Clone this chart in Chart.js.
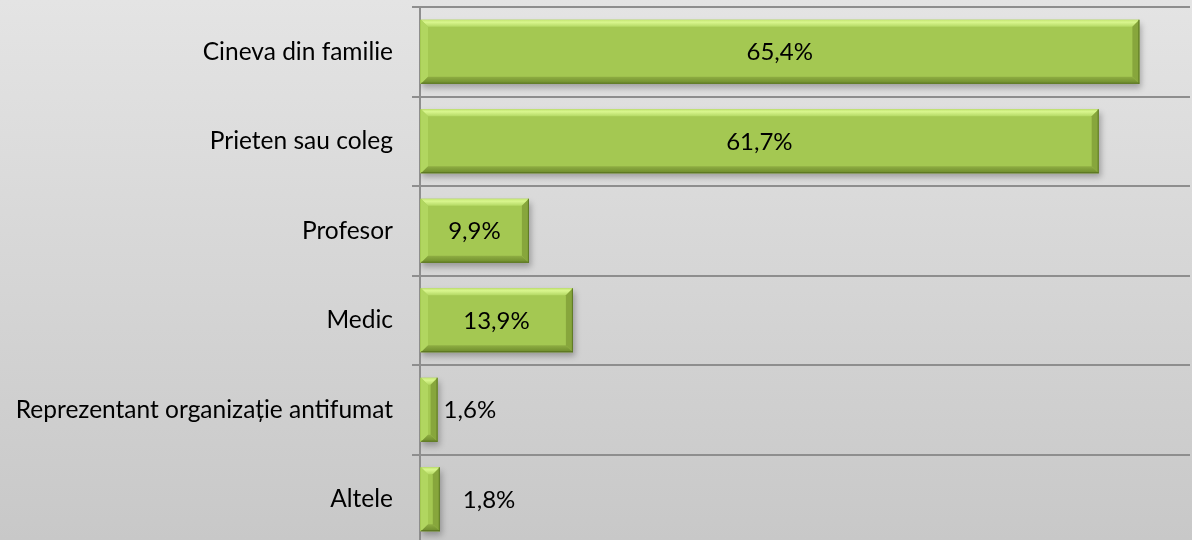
<!DOCTYPE html>
<html>
<head>
<meta charset="utf-8">
<script src="https://cdn.jsdelivr.net/npm/chart.js@4/dist/chart.umd.min.js"></script>
<style>
  html, body { margin: 0; padding: 0; overflow: hidden; width: 1192px; height: 540px; background: #d6d6d6; }
  canvas { display: block; }
</style>
</head>
<body>
<canvas id="c" width="1192" height="544"></canvas>
<script>
const categories = [
  "Cineva din familie",
  "Prieten sau coleg",
  "Profesor",
  "Medic",
  "Reprezentant organizație antifumat",
  "Altele"
];
const values = [65.4, 61.7, 9.9, 13.9, 1.6, 1.8];
const valueLabels = ["65,4%", "61,7%", "9,9%", "13,9%", "1,6%", "1,8%"];

const FONT = "Lato, 'Open Sans', sans-serif";

const bgPlugin = {
  id: 'bg',
  beforeDraw(chart) {
    const ctx = chart.ctx;
    const g = ctx.createLinearGradient(0, 0, 0, 540);
    g.addColorStop(0, '#e4e4e4');
    g.addColorStop(1, '#c8c8c8');
    ctx.save();
    ctx.fillStyle = g;
    ctx.fillRect(0, 0, chart.width, chart.height);
    ctx.restore();
  }
};

const bevelPlugin = {
  id: 'bevel',
  beforeDatasetsDraw(chart) {
    const ctx = chart.ctx;
    ctx.save();
    ctx.shadowColor = 'rgba(0,0,0,0.28)';
    ctx.shadowBlur = 6;
    ctx.shadowOffsetX = 2;
    ctx.shadowOffsetY = 4;
  },
  afterDatasetsDraw(chart) {
    const ctx = chart.ctx;
    ctx.restore();
    const meta = chart.getDatasetMeta(0);
    meta.data.forEach((bar) => {
      const x0 = Math.min(bar.base, bar.x) + 1;
      const x1 = Math.max(bar.base, bar.x);
      const y0 = bar.y - bar.height / 2;
      const y1 = bar.y + bar.height / 2;
      const w = x1 - x0, h = y1 - y0;
      const b = Math.min(7, w / 2);
      ctx.save();
      // top bevel
      let g = ctx.createLinearGradient(0, y0, 0, y0 + b);
      g.addColorStop(0, '#c4e672');
      g.addColorStop(0.35, '#d9f68e');
      g.addColorStop(1, '#b4d964');
      ctx.fillStyle = g;
      ctx.beginPath();
      ctx.moveTo(x0, y0); ctx.lineTo(x1, y0); ctx.lineTo(x1 - b, y0 + b); ctx.lineTo(x0 + b, y0 + b); ctx.closePath();
      ctx.fill();
      // left bevel
      ctx.fillStyle = 'rgba(180,218,100,0.8)';
      ctx.beginPath();
      ctx.moveTo(x0, y0); ctx.lineTo(x0 + b, y0 + b); ctx.lineTo(x0 + b, y1 - b); ctx.lineTo(x0, y1); ctx.closePath();
      ctx.fill();
      // right bevel
      ctx.fillStyle = 'rgba(132,162,58,0.9)';
      ctx.beginPath();
      ctx.moveTo(x1, y0); ctx.lineTo(x1, y1); ctx.lineTo(x1 - b, y1 - b); ctx.lineTo(x1 - b, y0 + b); ctx.closePath();
      ctx.fill();
      // bottom bevel
      g = ctx.createLinearGradient(0, y1 - b, 0, y1);
      g.addColorStop(0, '#8fae43');
      g.addColorStop(1, '#6c8a2b');
      ctx.fillStyle = g;
      ctx.beginPath();
      ctx.moveTo(x0, y1); ctx.lineTo(x1, y1); ctx.lineTo(x1 - b, y1 - b); ctx.lineTo(x0 + b, y1 - b); ctx.closePath();
      ctx.fill();
      // right dark edge
      ctx.strokeStyle = 'rgba(85,110,30,0.85)';
      ctx.lineWidth = 1;
      ctx.beginPath();
      ctx.moveTo(x1 - 0.5, y0); ctx.lineTo(x1 - 0.5, y1);
      ctx.moveTo(x0, y1 - 0.5); ctx.lineTo(x1, y1 - 0.5);
      ctx.stroke();
      ctx.restore();
    });
  }
};

const labelPlugin = {
  id: 'vlabels',
  afterDatasetsDraw(chart, args, opts) {
    const ctx = chart.ctx;
    const meta = chart.getDatasetMeta(0);
    ctx.save();
    ctx.font = "24px " + FONT;
    ctx.fillStyle = '#000';
    ctx.textBaseline = 'middle';
    meta.data.forEach((bar, i) => {
      const txt = valueLabels[i];
      const tw = ctx.measureText(txt).width;
      const barW = bar.x - bar.base;
      if (barW > tw + 10) {
        ctx.textAlign = 'center';
        ctx.fillText(txt, (bar.x + bar.base) / 2, bar.y + 1);
      } else {
        ctx.textAlign = 'left';
        const nudge = (opts.outsideNudge && opts.outsideNudge[i]) || 6;
        ctx.fillText(txt, bar.x + nudge, bar.y + 1);
      }
    });
    ctx.restore();
  }
};

new Chart(document.getElementById('c'), {
  type: 'bar',
  data: {
    labels: categories,
    datasets: [{
      data: values,
      backgroundColor(context) {
        const ch = context.chart;
        const el = context.element;
        if (!el || !ch.chartArea) return '#a4c852';
        const y0 = el.y - el.height / 2, y1 = el.y + el.height / 2;
        if (!isFinite(y0) || !isFinite(y1)) return '#a4c852';
        const g = ch.ctx.createLinearGradient(0, y0, 0, y1);
        g.addColorStop(0, '#aed65c');
        g.addColorStop(0.5, '#a3c851');
        g.addColorStop(1, '#93b546');
        return g;
      },
      borderWidth: 0,
      barPercentage: 0.715,
      categoryPercentage: 1.0
    }]
  },
  options: {
    indexAxis: 'y',
    responsive: false,
    animation: false,
    layout: { padding: { top: 7, right: 2, bottom: 0, left: 0 } },
    plugins: {
      legend: { display: false },
      tooltip: { enabled: false },
      vlabels: { outsideNudge: [0, 0, 0, 0, 6, 23] }
    },
    scales: {
      x: {
        display: false,
        min: 0,
        max: 70
      },
      y: {
        afterFit(scale) {
          scale.width = 420;
          scale.paddingTop = 0;
          scale.paddingBottom = 0;
        },
        grid: {
          color: '#8e8e8e',
          lineWidth: 2,
          tickLength: 8,
          offset: true
        },
        border: { color: '#8e8e8e', width: 2 },
        ticks: {
          color: '#000',
          padding: 19,
          font: { family: FONT, size: 24.5 }
        }
      }
    }
  },
  plugins: [bgPlugin, bevelPlugin, labelPlugin]
});
</script>
</body>
</html>
